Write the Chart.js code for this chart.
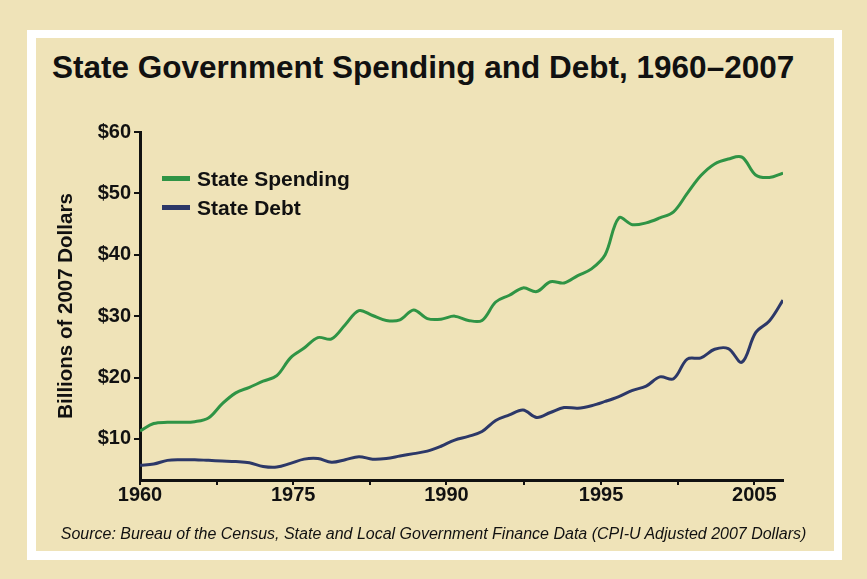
<!DOCTYPE html>
<html>
<head>
<meta charset="utf-8">
<script src="https://cdn.jsdelivr.net/npm/chart.js@4.4.1/dist/chart.umd.min.js"></script>
<style>
  html, body { margin: 0; padding: 0; }
  body { width: 867px; height: 579px; background: #efe3b8; position: relative; overflow: hidden;
         font-family: "Liberation Sans", Arial, sans-serif; color: #111; }
  #frame { position: absolute; left: 27px; top: 30px; width: 815px; height: 530px; background: #fff; }
  #panel { position: absolute; left: 36px; top: 38px; width: 798px; height: 513px; background: #efe3b8; }
  #title { position: absolute; left: 52px; top: 52px; font-size: 31.5px; font-weight: bold; line-height: 1; white-space: nowrap; }
  #legend { position: absolute; left: 162px; top: 164px; }
  .lg-item { display: flex; align-items: center; height: 29px; font-size: 21px; font-weight: bold; }
  .lg-swatch { width: 28px; height: 5px; margin-right: 7px; }
  #source { position: absolute; left: 0; width: 867px; top: 525px; text-align: center; font-size: 16px; font-style: italic; }
  #chart { position: absolute; left: 0; top: 0; }
</style>
</head>
<body>
<div id="frame"></div>
<div id="panel"></div>
<div id="title">State Government Spending and Debt, 1960–2007</div>
<canvas id="chart" width="867" height="579"></canvas>
<div id="legend"></div>
<div id="source">Source: Bureau of the Census, State and Local Government Finance Data (CPI-U Adjusted 2007 Dollars)</div>
<script>
// ---- Data (billions of 2007 dollars) ----
const years = [
  1960, 1961, 1962, 1963, 1964, 1965, 1966, 1967, 1968, 1969,
  1970, 1971, 1972, 1973, 1974, 1975, 1976, 1977, 1978, 1979,
  1980, 1981, 1982, 1983, 1984, 1985, 1986, 1987, 1988, 1989,
  1990, 1991, 1992, 1993, 1994, 1995, 1996, 1997, 1998, 1999,
  2000, 2001, 2002, 2003, 2004, 2005, 2006, 2007
];
const spending = [
  11.3, 12.5, 12.7, 12.7, 12.8, 13.4, 15.7, 17.5, 18.4, 19.4,
  20.3, 23.2, 24.8, 26.5, 26.3, 28.6, 30.9, 30.1, 29.3, 29.4,
  31.0, 29.6, 29.5, 30.0, 29.3, 29.3, 32.3, 33.4, 34.6, 34.0,
  35.6, 35.4, 36.6, 37.7, 40.0, 46.0, 44.9, 45.2, 46.0, 47.0,
  50.0, 52.9, 54.8, 55.6, 55.9, 53.0, 52.6, 53.3
];
const debt = [
  5.7, 5.9, 6.5, 6.6, 6.6, 6.5, 6.4, 6.3, 6.1, 5.5,
  5.4, 6.0, 6.7, 6.8, 6.2, 6.6, 7.1, 6.7, 6.8, 7.2,
  7.6, 8.0, 8.8, 9.8, 10.4, 11.2, 13.0, 13.9, 14.7, 13.5,
  14.3, 15.1, 15.0, 15.4, 16.1, 16.9, 17.9, 18.6, 20.1, 19.8,
  23.0, 23.2, 24.6, 24.7, 22.5, 27.3, 29.2, 32.6
];
// x ticks as printed on the original (labels do not follow the year scale)
const xTickValues = [1960, 1965.6, 1971.2, 1976.8, 1982.4, 1988.1, 1993.7, 1999.3, 2004.9];
const xTickLabels = ['1960', '', '1975', '', '1990', '', '1995', '', '2005'];
const yTickValues = [10, 20, 30, 40, 50, 60];

const seriesNames  = ['State Spending', 'State Debt'];
const seriesColors = ['#2f9445', '#2c3868'];

const ink = '#111';
const boldFont = { family: '"Liberation Sans", Arial, sans-serif', size: 20, weight: 'bold' };

const toPoints = vals => vals.map((v, i) => ({ x: years[i], y: v }));

new Chart(document.getElementById('chart'), {
  type: 'line',
  data: {
    datasets: [spending, debt].map((vals, i) => ({
      label: seriesNames[i],
      data: toPoints(vals),
      borderColor: seriesColors[i],
      borderWidth: 3,
      pointRadius: 0,
      tension: 0.35,
      fill: false
    }))
  },
  options: {
    responsive: false,
    animation: false,
    layout: { padding: { left: 0, top: 132, right: 84, bottom: 69 } },
    plugins: { legend: { display: false }, tooltip: { enabled: false } },
    scales: {
      x: {
        type: 'linear', min: 1960, max: 2007,
        afterBuildTicks: s => { s.ticks = xTickValues.map(v => ({ value: v })); },
        afterFit: s => { s.height = 30; },
        ticks: {
          color: ink, font: boldFont, padding: -2, maxRotation: 0, autoSkip: false,
          callback: (v, i) => xTickLabels[i]
        },
        grid: { drawOnChartArea: false, drawTicks: true, tickLength: 5, color: ink, lineWidth: 2 },
        border: { display: true, color: ink, width: 3 }
      },
      y: {
        min: 3.3, max: 60,
        afterBuildTicks: s => { s.ticks = yTickValues.map(v => ({ value: v })); },
        afterFit: s => { s.width = 140; },
        ticks: { color: ink, font: boldFont, padding: 3, callback: v => '$' + v },
        grid: { drawOnChartArea: false, drawTicks: true, tickLength: 6, color: ink, lineWidth: 2 },
        border: { display: true, color: ink, width: 3 },
        title: {
          display: true, text: 'Billions of 2007 Dollars', color: ink,
          font: { family: '"Liberation Sans", Arial, sans-serif', size: 20.5, weight: 'bold' },
          padding: { top: 54, bottom: 0 }
        }
      }
    }
  }
});

// ---- HTML legend from the series ----
const legendEl = document.getElementById('legend');
seriesNames.forEach((name, i) => {
  legendEl.innerHTML += `
    <div class="lg-item"><span class="lg-swatch" style="background:${seriesColors[i]}"></span>${name}</div>`;
});
</script>
</body>
</html>
